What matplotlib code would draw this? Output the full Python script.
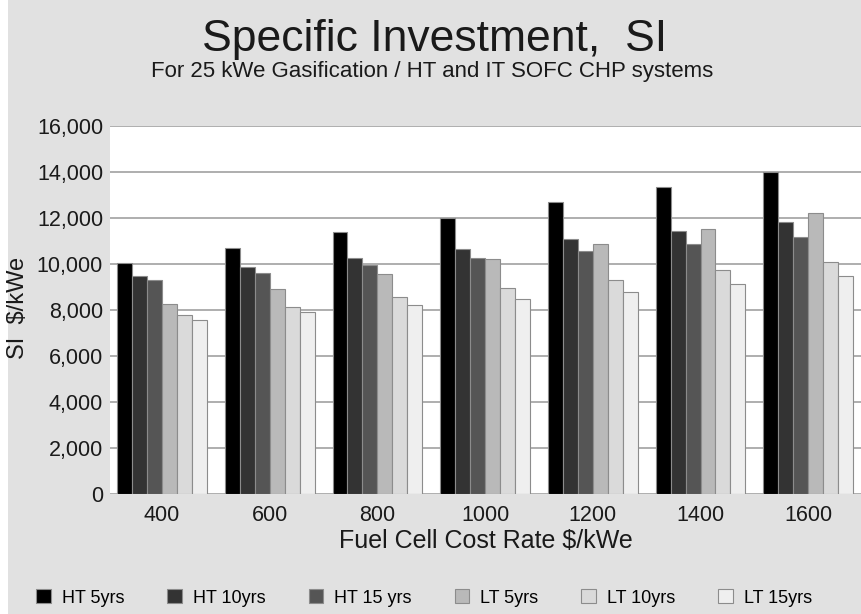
import matplotlib
matplotlib.use("Agg")
import matplotlib.pyplot as plt
import numpy as np
from matplotlib.ticker import FuncFormatter

plt.rcParams['font.family'] = ['Liberation Sans', 'DejaVu Sans']

# --- data: specific investment (USD/kWe) per fuel cell cost rate ---
cost_rates = ["400", "600", "800", "1000", "1200", "1400", "1600"]
series_names = ["HT 5yrs", "HT 10yrs", "HT 15 yrs", "LT 5yrs", "LT 10yrs", "LT 15yrs"]
ht_5 = [10050, 10700, 11380, 12010, 12700, 13330, 14000]
ht_10 = [9480, 9880, 10280, 10670, 11070, 11450, 11840]
ht_15 = [9300, 9620, 9940, 10270, 10550, 10860, 11190]
lt_5 = [8250, 8900, 9550, 10220, 10870, 11520, 12200]
lt_10 = [7780, 8140, 8580, 8940, 9300, 9740, 10100]
lt_15 = [7570, 7930, 8220, 8490, 8800, 9120, 9480]

series = [ht_5, ht_10, ht_15, lt_5, lt_10, lt_15]
colors = ["#000000", "#333333", "#555555", "#b9b9b9", "#dadada", "#efefef"]

fig = plt.figure(figsize=(8.61, 6.14), dpi=100, facecolor="#e1e1e1")
ax = fig.add_axes([110 / 861, 1 - 494 / 614, 1 - 110 / 861, (494 - 126) / 614])
ax.set_facecolor("white")

# thin white border on the left edge
fig.patches.append(plt.Rectangle((0, 0), 8 / 861, 1, transform=fig.transFigure,
                                 facecolor="white", edgecolor="none", zorder=-1))

x = np.arange(len(cost_rates))
width = 0.139
for i, (vals, col, name) in enumerate(zip(series, colors, series_names)):
    ax.bar(x - 2.5 * width + i * width, vals, width, color=col,
           edgecolor="#8c8c8c", linewidth=0.8, label=name, zorder=3)

ax.set_ylim(0, 16000)
ax.set_xlim(-0.483, 6.49)
ax.set_yticks(np.arange(0, 16001, 2000))
ax.yaxis.set_major_formatter(FuncFormatter(lambda v, p: f"{int(v):,}"))
ax.set_xticks(x)
ax.set_xticklabels(cost_rates)
ax.tick_params(axis="both", length=0, labelsize=15.5, colors="#1a1a1a")
ax.tick_params(axis="y", pad=5)
ax.tick_params(axis="x", pad=8)
ax.grid(axis="y", color="#a8a8a8", linewidth=1.3, zorder=0)
for s in ax.spines.values():
    s.set_visible(False)

ax.set_xlabel("Fuel Cell Cost Rate $/kWe", fontsize=18, color="#1a1a1a", labelpad=2)
fig.text(18 / 861, 1 - 308 / 614, "SI  $/kWe", rotation=90, fontsize=17,
         color="#1a1a1a", ha="center", va="center")

fig.text(435 / 861, 1 - 40 / 614, "Specific Investment,  SI", fontsize=32,
         color="#1a1a1a", ha="center", va="center")
fig.text(432 / 861, 1 - 72 / 614, "For 25 kWe Gasification / HT and IT SOFC CHP systems",
         fontsize=16, color="#1a1a1a", ha="center", va="center")

fig.legend(loc="center", bbox_to_anchor=(424 / 861, 1 - 598 / 614), ncol=6,
           frameon=False, fontsize=13, handlelength=0.8, handleheight=0.8,
           handletextpad=0.6, columnspacing=2.4)

fig.savefig("out.png", dpi=100, facecolor=fig.get_facecolor())
